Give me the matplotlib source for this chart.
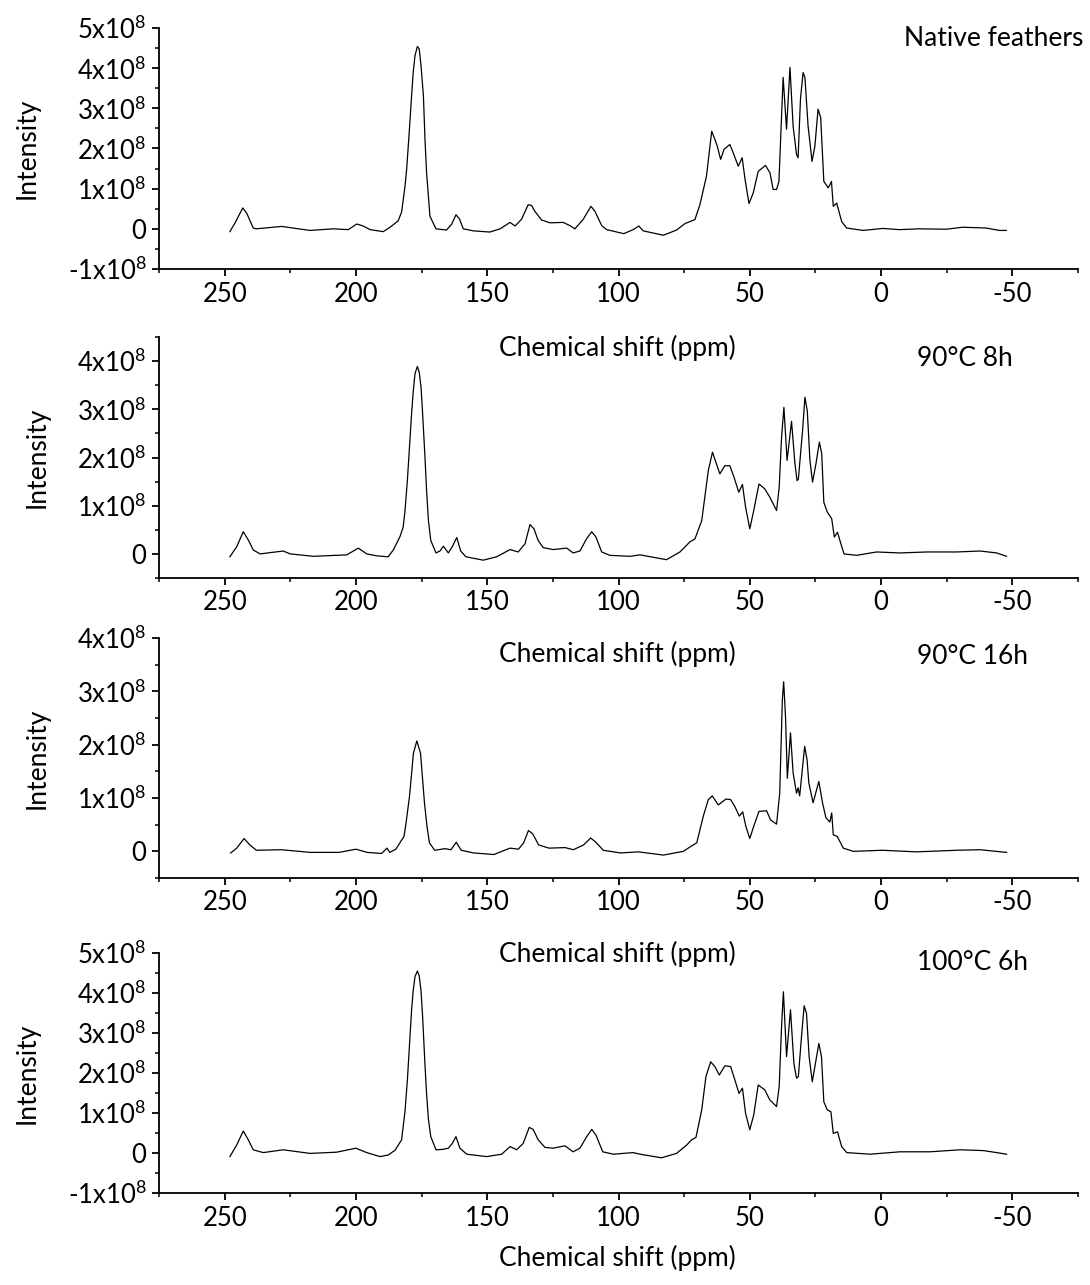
import matplotlib
matplotlib.use("Agg")
import matplotlib.pyplot as plt
from matplotlib.ticker import MultipleLocator, FuncFormatter

plt.rcParams['font.family'] = ['Lato', 'DejaVu Sans']
plt.rcParams['mathtext.fontset'] = 'custom'
plt.rcParams['mathtext.rm'] = 'Lato'
plt.rcParams['mathtext.default'] = 'regular'
plt.rcParams['axes.unicode_minus'] = False

SCALE = 1e8  # intensities below are in units of 1x10^8

# --- Native feathers ---
native_ppm = [248.0, 246.1, 243.1, 241.6, 239.1, 238.0, 228.3, 217.5, 208.6, 202.9, 199.7, 197.2,
              194.6, 189.6, 187.0, 183.9, 182.6, 181.3, 180.7, 179.8, 178.8, 178.2, 177.5, 176.6,
              175.9, 175.2, 174.3, 173.7, 173.1, 172.4,
              171.8, 169.5, 165.5, 163.5, 161.9, 160.6, 159.1, 155.3, 149.0, 145.1, 141.3, 139.4,
              136.9, 134.4, 133.1, 131.8, 129.3, 126.1, 121.0, 118.5, 116.6, 113.4, 110.5, 109.0,
              106.4, 104.5, 98.0, 94.4, 92.3, 90.6, 82.9, 77.9, 74.7, 70.9, 69.0, 66.5, 64.5, 63.3,
              62.4, 61.1, 59.8, 57.6, 56.3, 54.4, 52.9, 51.8, 50.3, 48.7, 46.8, 44.0, 42.3, 41.1,
              39.8, 38.9, 38.1, 37.3, 36.0, 34.7, 33.5, 32.2, 31.6, 30.7, 29.7, 29.0, 27.8, 26.3,
              25.2, 24.0, 23.0, 21.8, 20.1, 18.9, 18.2, 16.9, 15.0, 13.1, 6.8, -0.6, -7.0, -14.6,
              -24.8, -31.1, -40.0, -45.1, -47.7]
native_int = [-0.07, 0.14, 0.52, 0.39, 0.02, 0.0, 0.06, -0.04, 0.0, -0.02, 0.12, 0.07,
              -0.02, -0.07, 0.04, 0.2, 0.42, 1.06, 1.47, 2.31, 3.31, 3.89, 4.31, 4.54,
              4.48, 4.06, 3.31, 2.23, 1.4, 0.81,
              0.31, 0.0, -0.03, 0.12, 0.35, 0.25, 0.0, -0.05, -0.08, 0.0, 0.16, 0.07,
              0.24, 0.6, 0.58, 0.43, 0.22, 0.15, 0.16, 0.08, 0.0, 0.24, 0.56, 0.44,
              0.08, -0.02, -0.12, -0.02, 0.07, -0.05, -0.16, -0.03, 0.13, 0.23, 0.6, 1.31, 2.43, 2.23,
              2.06, 1.73, 1.98, 2.1, 1.89, 1.56, 1.77, 1.23, 0.63, 0.89, 1.43, 1.58, 1.39, 0.98,
              0.98, 1.18, 2.48, 3.77, 2.48, 4.02, 2.56, 1.85, 1.77, 3.23, 3.89, 3.77, 2.56, 1.68,
              2.06, 2.98, 2.77, 1.18, 1.02, 1.18, 0.56, 0.64, 0.18, 0.02, -0.04, 0.01, -0.02, 0.0,
              -0.01, 0.04, 0.02, -0.04, -0.04]

# --- 90°C 8h ---
h8_ppm = [248.0, 245.4, 242.9, 241.0, 239.1, 236.5, 227.7, 225.0, 216.2, 203.5, 199.1, 195.9,
          192.1, 187.7, 185.8, 183.2, 182.0, 181.3, 180.4, 178.8, 178.2, 177.5, 176.6, 175.9,
          175.2, 174.6, 173.7, 173.1, 172.4,
          171.5, 169.5, 168.0, 166.7, 164.8, 163.3, 161.6, 160.1, 158.1, 151.5, 146.4, 141.3,
          138.2, 135.6, 133.7, 132.2, 130.6, 128.7, 124.9, 119.7, 117.3, 114.7, 112.1, 110.2,
          108.6, 106.4, 103.3, 95.6, 91.8, 81.7, 76.6, 72.8, 70.9, 68.3, 65.8, 64.2, 62.9, 61.4,
          59.5, 57.6, 56.0, 54.2, 52.8, 51.6, 50.0, 48.5, 46.5, 44.3, 42.4, 39.8, 38.8, 37.9,
          37.0, 35.8, 34.1, 32.8, 32.0, 31.5, 29.9, 29.0, 28.1, 27.1, 26.1, 24.8, 23.5, 22.6,
          21.8, 20.5, 18.8, 17.8, 16.6, 15.3, 14.1, 9.3, 1.7, -7.2, -17.4, -28.8, -37.7, -44.0,
          -47.8]
h8_int = [-0.06, 0.15, 0.46, 0.29, 0.08, 0.0, 0.06, 0.0, -0.05, -0.02, 0.12, 0.0,
          -0.04, -0.06, 0.08, 0.36, 0.56, 0.9, 1.53, 2.91, 3.35, 3.74, 3.89, 3.77,
          3.46, 2.91, 2.0, 1.32, 0.7,
          0.28, 0.02, 0.06, 0.16, 0.02, 0.15, 0.34, 0.06, -0.06, -0.13, -0.06, 0.09,
          0.04, 0.21, 0.61, 0.52, 0.28, 0.13, 0.09, 0.12, 0.02, 0.06, 0.32, 0.46,
          0.35, 0.04, -0.03, -0.05, -0.02, -0.12, 0.04, 0.25, 0.31, 0.69, 1.73, 2.11, 1.9, 1.66,
          1.83, 1.83, 1.59, 1.28, 1.44, 0.97, 0.52, 0.9, 1.45, 1.35, 1.18, 0.9, 1.38, 2.42,
          3.04, 1.94, 2.75, 1.87, 1.52, 1.55, 2.56, 3.25, 2.97, 1.94, 1.49, 1.87, 2.32, 2.08,
          1.07, 0.87, 0.73, 0.35, 0.45, 0.21, 0.0, -0.03, 0.04, 0.02, 0.04, 0.04, 0.06, 0.02,
          -0.05]

# --- 90°C 16h ---
h16_ppm = [247.7, 245.4, 242.6, 240.4, 237.9, 228.3, 217.4, 206.5, 200.0, 195.7, 190.2, 188.2,
           187.1, 184.8, 181.7, 181.0, 179.6, 178.1, 176.8, 175.4, 173.9, 172.9, 172.0, 170.0,
           166.1, 163.8,
           161.8, 159.9, 155.2, 147.5, 141.3, 138.1, 136.1, 134.3, 132.7, 130.4, 126.5, 120.3,
           117.2, 113.3, 110.6, 108.6, 105.8, 99.3, 92.4, 82.9, 75.3, 72.5, 70.2, 67.7, 65.8,
           64.3, 62.0, 59.1, 57.3, 55.7, 54.0, 52.7, 51.5, 50.0, 48.5, 46.5, 43.6, 42.1, 39.8,
           38.6, 37.6, 37.1, 36.4, 35.7, 34.5, 33.5, 32.2, 31.6, 31.0, 29.1, 28.2, 27.5, 25.9,
           23.7, 22.3, 21.0, 19.5, 18.8, 18.2, 16.7, 14.4, 10.6, -0.6, -13.5, -28.8, -37.7, -47.8]
h16_int = [-0.03, 0.06, 0.24, 0.12, 0.02, 0.03, -0.02, -0.02, 0.04, -0.02, -0.04, 0.06,
           -0.02, 0.04, 0.28, 0.5, 1.03, 1.84, 2.07, 1.84, 0.91, 0.45, 0.16, 0.02,
           0.05, 0.03,
           0.17, 0.02, -0.03, -0.06, 0.06, 0.04, 0.16, 0.39, 0.33, 0.12, 0.06, 0.07,
           0.03, 0.12, 0.25, 0.17, 0.02, -0.03, -0.01, -0.07, 0.0, 0.09, 0.16, 0.66, 0.97,
           1.04, 0.87, 0.98, 0.97, 0.84, 0.66, 0.74, 0.47, 0.24, 0.47, 0.75, 0.76, 0.59, 0.51,
           1.09, 2.84, 3.18, 2.53, 1.37, 2.22, 1.47, 1.09, 1.19, 1.04, 1.97, 1.72, 1.28, 0.91,
           1.31, 0.91, 0.63, 0.55, 0.72, 0.31, 0.28, 0.06, 0.0, 0.02, -0.01, 0.02, 0.03, -0.02]

# --- 100°C 6h ---
h100_ppm = [248.0, 245.4, 242.9, 241.0, 239.1, 235.3, 227.7, 217.5, 207.4, 200.0, 195.9, 190.8,
            187.7, 185.1, 182.6, 181.3, 180.4, 178.8, 178.2, 177.5, 176.6, 175.9, 175.2, 174.6,
            173.7, 173.1, 172.4, 171.5, 169.5,
            167.0, 164.8, 163.3, 161.9, 160.4, 157.8, 150.2, 144.5, 141.3, 138.8, 136.3, 134.0,
            132.5, 130.6, 128.0, 124.9, 120.4, 117.3, 114.7, 112.1, 110.2, 108.6, 106.0, 102.0,
            94.4, 91.8, 83.6, 77.9, 74.0, 72.2, 70.5, 68.3, 66.7, 64.9, 63.3, 61.6, 59.5, 57.3,
            55.7, 54.1, 52.8, 51.6, 50.0, 48.5, 46.8, 44.3, 42.4, 39.8, 38.8, 37.9, 37.2, 36.0,
            34.5, 33.2, 32.2, 31.5, 30.3, 29.3, 28.4, 27.4, 26.2, 25.0, 23.7, 22.7, 21.8, 20.5,
            19.1, 18.2, 16.6, 15.0, 13.1, 4.2, -7.2, -18.7, -30.1, -39.0, -44.0, -47.8]
h100_int = [-0.09, 0.2, 0.55, 0.33, 0.08, 0.01, 0.08, -0.01, 0.02, 0.12, 0.01, -0.09,
            -0.05, 0.07, 0.33, 1.05, 1.83, 3.58, 4.05, 4.41, 4.55, 4.43, 4.05, 3.41,
            2.2, 1.49, 0.85, 0.41, 0.08,
            0.09, 0.12, 0.24, 0.41, 0.12, -0.03, -0.09, -0.03, 0.16, 0.08, 0.24, 0.64,
            0.59, 0.33, 0.14, 0.12, 0.18, 0.03, 0.12, 0.41, 0.59, 0.45, 0.03, -0.03,
            0.01, -0.03, -0.12, -0.01, 0.2, 0.33, 0.39, 1.08, 1.91, 2.28, 2.16, 1.95, 2.18, 2.16,
            1.83, 1.49, 1.62, 0.99, 0.58, 0.95, 1.7, 1.58, 1.33, 1.16, 1.66, 3.16, 4.03, 2.41,
            3.58, 2.24, 1.87, 1.91, 2.91, 3.68, 3.49, 2.41, 1.78, 2.24, 2.74, 2.41, 1.28, 1.08,
            1.03, 0.49, 0.53, 0.16, 0.01, -0.03, 0.03, 0.03, 0.08, 0.06, 0.01, -0.03]

panel_labels = ['Native feathers', '90°C 8h', '90°C 16h', '100°C 6h']
panel_ylims = [(-1, 5), (-0.5, 4.5), (-0.5, 4), (-1, 5)]
panel_ymajor = [(-1, 5), (0, 4), (0, 4), (-1, 5)]

# layout in figure pixels (top, bottom) of each axes
W, H = 1090, 1285
axes_px = [(28, 269), (337, 578), (638, 878), (953, 1193)]
label_pos = [(904, 38), (917, 359), (917, 657), (917, 962)]
xlabel_y = [348, 654, 954, 1258]

TICK_FS = 18.5
TEXT_FS = 19


def y_fmt(v, pos):
    n = int(round(v / SCALE))
    if n == 0:
        return '0'
    return f'{n}x10$^{{8}}$'


fig = plt.figure(figsize=(W / 100, H / 100), dpi=100)
series = [(native_ppm, native_int), (h8_ppm, h8_int), (h16_ppm, h16_int), (h100_ppm, h100_int)]
left, right = 159 / W, 1078 / W

for i, (ppm, inten) in enumerate(series):
    top, bot = axes_px[i]
    ax = fig.add_axes([left, 1 - bot / H, right - left, (bot - top) / H])
    ax.plot(ppm, [v * SCALE for v in inten], color='black', lw=0.9)
    ax.set_xlim(275, -75)
    lo, hi = panel_ylims[i]
    ax.set_ylim(lo * SCALE, hi * SCALE)
    ax.set_yticks([k * SCALE for k in range(panel_ymajor[i][0], panel_ymajor[i][1] + 1)])
    ax.yaxis.set_minor_locator(MultipleLocator(0.5 * SCALE))
    ax.yaxis.set_major_formatter(FuncFormatter(y_fmt))
    ax.set_xticks([250, 200, 150, 100, 50, 0, -50])
    ax.xaxis.set_minor_locator(MultipleLocator(25))
    ax.xaxis.set_major_formatter(FuncFormatter(lambda v, p: f'{int(round(v))}'))
    for s in ['top', 'right']:
        ax.spines[s].set_visible(False)
    for s in ['left', 'bottom']:
        ax.spines[s].set_linewidth(1.3)
    ax.tick_params(which='major', direction='out', length=5, width=1.3, labelsize=TICK_FS, pad=4)
    ax.tick_params(which='minor', direction='out', length=3, width=1.1)
    ax.set_ylabel('Intensity', fontsize=TEXT_FS, labelpad=20)

    tx, ty = label_pos[i]
    fig.text(tx / W, 1 - ty / H, panel_labels[i], fontsize=TEXT_FS, ha='left', va='center')
    fig.text(617.5 / W, 1 - xlabel_y[i] / H, 'Chemical shift (ppm)', fontsize=TEXT_FS,
             ha='center', va='center')

fig.savefig('out.png', dpi=100)
